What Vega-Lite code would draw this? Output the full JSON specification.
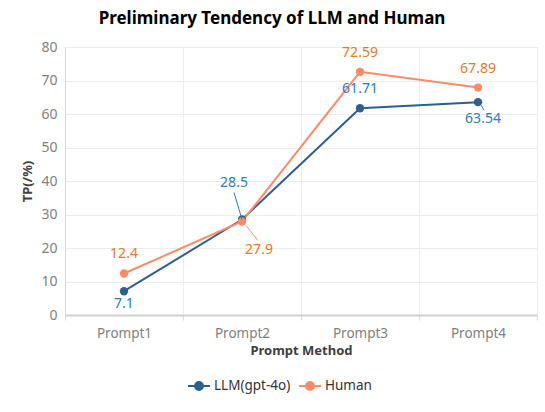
{
  "$schema": "https://vega.github.io/schema/vega-lite/v6.json",
  "autosize": "none",
  "width": 472,
  "height": 268,
  "padding": {"left": 65, "top": 47, "right": 8, "bottom": 97},
  "background": "white",
  "title": {
    "text": "Preliminary Tendency of LLM and Human",
    "font": "Noto Sans",
    "fontSize": 17,
    "fontWeight": "bold",
    "color": "#000000",
    "anchor": "middle",
    "dx": -29,
    "offset": 12
  },
  "config": {
    "font": "Noto Sans",
    "view": {"stroke": "#dcdcdc", "strokeWidth": 1}
  },
  "data": {
    "values": [
      {"Method": "Prompt1", "Series": "LLM(gpt-4o)", "TP": 7.1},
      {"Method": "Prompt2", "Series": "LLM(gpt-4o)", "TP": 28.5},
      {"Method": "Prompt3", "Series": "LLM(gpt-4o)", "TP": 61.71},
      {"Method": "Prompt4", "Series": "LLM(gpt-4o)", "TP": 63.54},
      {"Method": "Prompt1", "Series": "Human", "TP": 12.4},
      {"Method": "Prompt2", "Series": "Human", "TP": 27.9},
      {"Method": "Prompt3", "Series": "Human", "TP": 72.59},
      {"Method": "Prompt4", "Series": "Human", "TP": 67.89}
    ]
  },
  "encoding": {
    "x": {
      "field": "Method",
      "type": "nominal",
      "sort": ["Prompt1", "Prompt2", "Prompt3", "Prompt4"],
      "scale": {"type": "band", "paddingInner": 0, "paddingOuter": 0},
      "axis": {
        "title": "Prompt Method",
        "titleFont": "Noto Sans",
        "titleFontSize": 13,
        "titleFontWeight": "bold",
        "titleColor": "#404040",
        "titlePadding": 5,
        "labelFontSize": 13.5,
        "labelColor": "#7f7f7f",
        "labelAngle": 0,
        "labelPadding": 6,
        "tickBand": "extent",
        "ticks": true,
        "tickSize": 5,
        "tickColor": "#d9d9d9",
        "domainColor": "#d0d0d0",
        "domainWidth": 2,
        "grid": true,
        "gridColor": "#ececec"
      }
    },
    "y": {
      "field": "TP",
      "type": "quantitative",
      "scale": {"domain": [0, 80], "nice": false},
      "axis": {
        "title": "TP(/%)",
        "titleFontSize": 13,
        "titleFontWeight": "bold",
        "titleColor": "#404040",
        "titlePadding": 6,
        "labelFontSize": 14,
        "labelColor": "#7f7f7f",
        "labelPadding": 8,
        "labelOverlap": false,
        "ticks": false,
        "values": [0, 10, 20, 30, 40, 50, 60, 70, 80],
        "domainColor": "#d9d9d9",
        "grid": true,
        "gridColor": "#ececec"
      }
    }
  },
  "layer": [
    {
      "mark": {"type": "line", "strokeWidth": 2, "point": {"filled": true, "size": 70}},
      "encoding": {
        "color": {
          "field": "Series",
          "type": "nominal",
          "sort": ["LLM(gpt-4o)", "Human"],
          "scale": {"domain": ["LLM(gpt-4o)", "Human"], "range": ["#2d5f8f", "#ff8a66"]},
          "legend": {
            "title": null,
            "orient": "none",
            "direction": "horizontal",
            "legendX": 122,
            "legendY": 327,
            "labelFontSize": 13.5,
            "labelColor": "#333333",
            "labelOffset": 3,
            "columnPadding": 4,
            "symbolType": "M-1,0L1,0M-0.36,0A0.36,0.36,0,1,1,0.36,0A0.36,0.36,0,1,1,-0.36,0Z",
            "symbolSize": 484,
            "symbolStrokeWidth": 2,
            "encode": {
              "symbols": {
                "update": {
                  "fill": {"scale": "color", "field": "value"},
                  "stroke": {"scale": "color", "field": "value"},
                  "opacity": {"value": 1}
                }
              }
            }
          }
        }
      }
    },
    {
      "transform": [{"filter": "(datum.Series === 'Human' && datum.Method !== 'Prompt2') || (datum.Series === 'LLM(gpt-4o)' && datum.Method === 'Prompt3')"}],
      "mark": {"type": "text", "fontSize": 14, "dy": -19, "baseline": "middle"},
      "encoding": {
        "text": {"field": "TP", "type": "quantitative"},
        "fill": {"condition": {"test": "datum.Series === 'Human'", "value": "#e67a1e"}, "value": "#2a7bc6"}
      }
    },
    {
      "transform": [{"filter": "datum.Series === 'LLM(gpt-4o)' && datum.Method === 'Prompt1'"}],
      "mark": {"type": "text", "fontSize": 14, "dy": 13, "baseline": "middle", "fill": "#2a7bc6"},
      "encoding": {"text": {"field": "TP", "type": "quantitative"}}
    },
    {
      "transform": [{"filter": "datum.Series === 'LLM(gpt-4o)' && datum.Method === 'Prompt4'"}],
      "mark": {"type": "text", "fontSize": 14, "dx": 5, "dy": 17, "baseline": "middle", "fill": "#2a7bc6"},
      "encoding": {"text": {"field": "TP", "type": "quantitative"}}
    },
    {
      "transform": [{"filter": "datum.Series === 'LLM(gpt-4o)' && datum.Method === 'Prompt2'"}],
      "mark": {"type": "text", "fontSize": 14, "dx": -8, "dy": -37, "baseline": "middle", "fill": "#2a7bc6"},
      "encoding": {"text": {"field": "TP", "type": "quantitative"}}
    },
    {
      "transform": [{"filter": "datum.Series === 'Human' && datum.Method === 'Prompt2'"}],
      "mark": {"type": "text", "fontSize": 14, "dx": 17, "dy": 28, "baseline": "middle", "fill": "#e67a1e"},
      "encoding": {"text": {"field": "TP", "type": "quantitative"}}
    },
    {
      "transform": [{"filter": "datum.Series === 'LLM(gpt-4o)' && datum.Method === 'Prompt2'"}],
      "mark": {"type": "rule", "stroke": "#2a7bc6", "strokeWidth": 1, "x2Offset": -8, "y2Offset": -27},
      "encoding": {
        "x2": {"field": "Method"},
        "y2": {"field": "TP"}
      }
    },
    {
      "transform": [{"filter": "datum.Series === 'Human' && datum.Method === 'Prompt2'"}],
      "mark": {"type": "rule", "stroke": "#ff8a66", "strokeWidth": 1, "xOffset": 4, "yOffset": 4, "x2Offset": 16, "y2Offset": 19},
      "encoding": {
        "x2": {"field": "Method"},
        "y2": {"field": "TP"}
      }
    },
    {
      "transform": [{"filter": "datum.Series === 'LLM(gpt-4o)' && datum.Method === 'Prompt4'"}],
      "mark": {"type": "rule", "stroke": "#2a7bc6", "strokeWidth": 1, "xOffset": 3, "yOffset": 3, "x2Offset": 6, "y2Offset": 8},
      "encoding": {
        "x2": {"field": "Method"},
        "y2": {"field": "TP"}
      }
    }
  ]
}
